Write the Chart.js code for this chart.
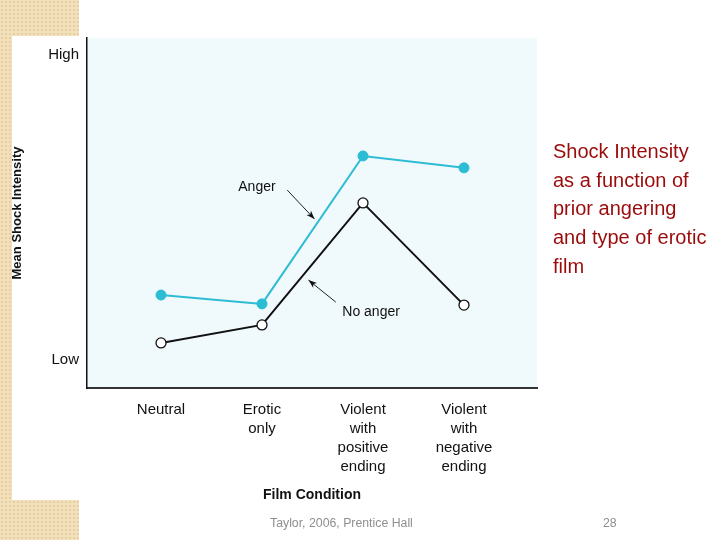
<!DOCTYPE html>
<html>
<head>
<meta charset="utf-8">
<script src="https://cdn.jsdelivr.net/npm/chart.js@4/dist/chart.umd.min.js"></script>
<style>
html,body{margin:0;padding:0;width:720px;height:540px;overflow:hidden;background:#fff;}
.beige{position:absolute;background-color:#f2e0bd;
 background-image:radial-gradient(#e8cf9f 1px, transparent 1.2px);background-size:4px 4px;}
#panel{position:absolute;left:12px;top:36px;width:528px;height:464px;background:#fff;}
#chartWrap{position:absolute;left:0;top:0;width:720px;height:540px;}
#side{position:absolute;left:553px;top:137px;width:170px;font-family:'Liberation Sans',Arial,sans-serif;font-size:20px;line-height:28.7px;color:#9b0b0b;}
#foot{position:absolute;left:270px;top:516px;font-family:'Liberation Sans',Arial,sans-serif;font-size:12.3px;color:#8f8f8f;}
#page{position:absolute;left:603px;top:516px;font-family:'Liberation Sans',Arial,sans-serif;font-size:12.3px;color:#8f8f8f;}
</style>
</head>
<body>
<div class="beige" style="left:0;top:0;width:79px;height:540px;"></div>
<div id="panel"></div>
<div id="chartWrap"><canvas id="c" width="720" height="540"></canvas></div>
<div id="side">Shock Intensity<br>as a function of<br>prior angering<br>and type of erotic<br>film</div>
<div id="foot">Taylor, 2006, Prentice Hall</div>
<div id="page">28</div>
<script>
const categories = [['Neutral'], ['Erotic','only'], ['Violent','with','positive','ending'], ['Violent','with','negative','ending']];
const angerValues = [2.13, 1.84, 6.69, 6.30];
const noAngerValues = [0.56, 1.15, 5.15, 1.80];
const yTickValues = [0, 10];
const yTickLabels = ['Low', 'High'];
const seriesNames = ['Anger', 'No anger'];
// annotation anchor points in data units: label, arrow start, arrow end
const annotations = [
  {text:'Anger', label:[0.95,5.67], from:[1.25,5.57], to:[1.52,4.62]},
  {text:'No anger', label:[2.08,1.57], from:[1.73,1.90], to:[1.46,2.62]}
];

const FONT = "'Liberation Sans',Arial,sans-serif";

const bgPlugin = {
  id:'bg',
  beforeDraw(chart){
    const {ctx, chartArea:a} = chart;
    ctx.save();
    ctx.fillStyle = '#f0f9fc';
    ctx.fillRect(a.left, a.top, a.right-a.left, a.bottom-a.top);
    ctx.restore();
  }
};
const annPlugin = {
  id:'ann',
  afterDatasetsDraw(chart){
    const {ctx, scales:{x,y}} = chart;
    ctx.save();
    annotations.forEach(an=>{
      ctx.font = "14px " + FONT;
      ctx.fillStyle = '#111';
      ctx.textAlign = 'center';
      ctx.textBaseline = 'middle';
      ctx.fillText(an.text, x.getPixelForValue(an.label[0]), y.getPixelForValue(an.label[1]));
      const x1 = x.getPixelForValue(an.from[0]), y1 = y.getPixelForValue(an.from[1]);
      const x2 = x.getPixelForValue(an.to[0]), y2 = y.getPixelForValue(an.to[1]);
      ctx.strokeStyle = '#222'; ctx.lineWidth = 1;
      ctx.beginPath(); ctx.moveTo(x1,y1); ctx.lineTo(x2,y2); ctx.stroke();
      const ang = Math.atan2(y2-y1, x2-x1), L = 9, W = 0.35;
      ctx.fillStyle = '#111';
      ctx.beginPath();
      ctx.moveTo(x2,y2);
      ctx.lineTo(x2 - L*Math.cos(ang-W), y2 - L*Math.sin(ang-W));
      ctx.lineTo(x2 - L*0.7*Math.cos(ang), y2 - L*0.7*Math.sin(ang));
      ctx.lineTo(x2 - L*Math.cos(ang+W), y2 - L*Math.sin(ang+W));
      ctx.closePath(); ctx.fill();
    });
    ctx.restore();
  }
};

new Chart(document.getElementById('c'), {
  type:'line',
  data:{
    datasets:[
      {label:seriesNames[0], data:angerValues.map((v,i)=>({x:i,y:v})), borderColor:'#2cbcd4', backgroundColor:'#2cbcd4',
       borderWidth:2, pointRadius:5, pointBackgroundColor:'#2cbcd4', pointBorderColor:'#2cbcd4', pointBorderWidth:1},
      {label:seriesNames[1], data:noAngerValues.map((v,i)=>({x:i,y:v})), borderColor:'#111', backgroundColor:'#fff',
       borderWidth:2, pointRadius:5, pointBackgroundColor:'#fff', pointBorderColor:'#111', pointBorderWidth:1.3}
    ]
  },
  options:{
    responsive:false, animation:false, devicePixelRatio:1,
    layout:{padding:{left:0, top:38, right:183, bottom:31}},
    plugins:{legend:{display:false}, tooltip:{enabled:false}},
    scales:{
      x:{type:'linear', min:-0.733, max:3.723,
        afterBuildTicks(s){ s.ticks = categories.map((c,i)=>({value:i})); },
        afterFit(s){ s.height = 121; },
        grid:{display:false, drawTicks:false},
        border:{display:true, color:'#333', width:2},
        ticks:{padding:12, color:'#111', font:{family:FONT, size:15, lineHeight:1.28}, maxRotation:0, autoSkip:false,
          callback:(v)=>categories[v]},
        title:{display:true, text:'Film Condition', color:'#111', font:{family:FONT, size:14, weight:'bold'}, padding:{top:4,bottom:5}}
      },
      y:{type:'linear', min:-0.918, max:10.557,
        afterBuildTicks(s){ s.ticks = yTickValues.map(v=>({value:v})); },
        afterFit(s){ s.width = 87; },
        grid:{display:false, drawTicks:false},
        border:{display:true, color:'#111', width:1.5},
        ticks:{padding:8, color:'#111', font:{family:FONT, size:15}, callback:(v)=>yTickLabels[yTickValues.indexOf(v)]},
        title:{display:true, text:'Mean Shock Intensity', color:'#111', font:{family:FONT, size:13, weight:'bold'}, padding:{top:10,bottom:0}}
      }
    }
  },
  plugins:[bgPlugin, annPlugin]
});
</script>
</body>
</html>
